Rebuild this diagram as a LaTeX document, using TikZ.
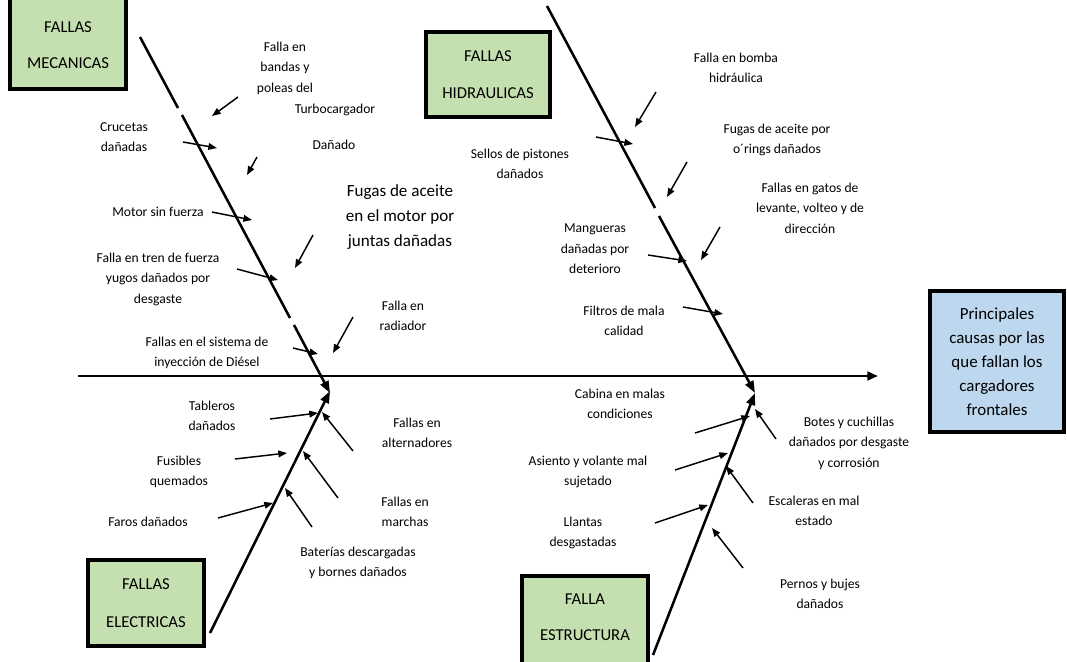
\documentclass[tikz,border=0pt]{standalone}
\usepackage{fontspec}
\setmainfont{Carlito}
\usetikzlibrary{arrows.meta}
\definecolor{catgreen}{RGB}{197,224,176}
\definecolor{effblue}{RGB}{189,215,238}
\begin{document}
\begin{tikzpicture}[x=0.75pt,y=-0.75pt,
  spine/.style={line width=2.2pt,-{Triangle[length=8pt,width=6.5pt]}},
  bone/.style={line width=1.9pt},
  bonetip/.style={bone,-{Triangle[length=9pt,width=6.5pt]}},
  cause/.style={line width=1.1pt,-{Triangle[length=6.5pt,width=5pt]}},
  lbl/.style={align=center,inner sep=0pt,font=\fontsize{10.2}{15.4}\selectfont},
  biglbl/.style={align=center,inner sep=0pt,font=\fontsize{12.8}{18.4}\selectfont},
  catbox/.style={draw,line width=3pt,fill=catgreen,align=center,inner sep=0pt,font=\fontsize{12.5}{28}\selectfont},
  cattext/.style={align=center,inner sep=0pt,font=\fontsize{12.5}{27}\selectfont},
  effbox/.style={draw,line width=3pt,fill=effblue,align=center,inner sep=0pt,font=\fontsize{12.7}{18}\selectfont},
]
\useasboundingbox (0,0) rectangle (1067,661);
\clip (0,0) rectangle (1067,661);

% category boxes
\node[catbox,minimum width=87pt,minimum height=74.25pt] (mechbox) at (68,39.5) {};
\node[cattext] (mech) at (68,45.5) {FALLAS\\MECANICAS};
\node[catbox,minimum width=93pt,minimum height=63.75pt] (hyd) at (488,74.5) {FALLAS\\HIDRAULICAS};
\node[catbox,minimum width=87pt,minimum height=64.5pt] (elec) at (146,603) {FALLAS\\ELECTRICAS};
\node[catbox,minimum width=94.5pt,minimum height=72pt] (strbox) at (585,624) {};
\node[cattext] (str) at (585,617.5) {FALLA\\ESTRUCTURA};
% effect box
\node[effbox,minimum width=100.5pt,minimum height=105.75pt] (eff) at (997,361.5)
  {Principales\\causas por las\\que fallan los\\cargadores\\frontales};

% spine
\coordinate (sp0) at (78,376);
\coordinate (sp1) at (878,376);
\draw[spine] (sp0) -- (sp1);

% bones
\coordinate (mA) at (140,37);
\coordinate (mB) at (178,108);
\coordinate (mC) at (182,115);
\coordinate (mD) at (290,318);
\coordinate (mE) at (294,325);
\coordinate (mF) at (330,393);
\draw[bone] (mA) -- (mB);
\draw[bone] (mC) -- (mD);
\draw[bonetip] (mE) -- (mF);

\coordinate (hA) at (547,6);
\coordinate (hB) at (655,208);
\coordinate (hC) at (659,216);
\coordinate (hD) at (755,393);
\draw[bone] (hA) -- (hB);
\draw[bonetip] (hC) -- (hD);

\coordinate (eA) at (210,633);
\coordinate (eB) at (330,391);
\draw[bonetip] (eA) -- (eB);

\coordinate (sA) at (653,655);
\coordinate (sB) at (755,393);
\draw[bonetip] (sA) -- (sB);

% mechanical causes
\node[lbl] (bandas) at (285,68) {Falla en\\bandas y\\poleas del};
\node[lbl] (turbo) at (335,110) {Turbocargador};
\node[lbl] (danado) at (334,145) {Dañado};
\node[lbl] (cruc) at (124,137) {Crucetas\\dañadas};
\node[lbl] (motor) at (158,212) {Motor sin fuerza};
\node[lbl] (tren) at (158,279) {Falla en tren de fuerza\\yugos dañados por\\desgaste};
\node[lbl] (inyec) at (207,353) {Fallas en el sistema de\\inyección de Diésel};
\node[biglbl] (fugas) at (400,217) {Fugas de aceite\\en el motor por\\juntas dañadas};
\node[lbl] (radia) at (403,316) {Falla en\\radiador};

\coordinate (t1) at (238,97);  \coordinate (h1) at (212,116);
\coordinate (t2) at (183,142); \coordinate (h2) at (217,148);
\coordinate (t3) at (257,157); \coordinate (h3) at (247,175);
\coordinate (t4) at (212,212); \coordinate (h4) at (252,220);
\coordinate (t5) at (313,235); \coordinate (h5) at (295,268);
\coordinate (t6) at (237,269); \coordinate (h6) at (278,280);
\coordinate (t7) at (293,348); \coordinate (h7) at (318,354);
\coordinate (t8) at (353,317); \coordinate (h8) at (333,353);
\foreach \i in {1,...,8} \draw[cause] (t\i) -- (h\i);

% hydraulic causes
\node[lbl] (bomba) at (736,68) {Falla en bomba\\hidráulica};
\node[lbl] (sellos) at (520,164) {Sellos de pistones\\dañados};
\node[lbl] (orings) at (777,140) {Fugas de aceite por\\o´rings dañados};
\node[lbl] (gatos) at (810,208) {Fallas en gatos de\\levante, volteo y de\\dirección};
\node[lbl] (mang) at (595,249) {Mangueras\\dañadas por\\deterioro};
\node[lbl] (filt) at (624,321) {Filtros de mala\\calidad};

\coordinate (ht1) at (656,92);  \coordinate (hh1) at (635,127);
\coordinate (ht2) at (596,137); \coordinate (hh2) at (633,144);
\coordinate (ht3) at (687,162); \coordinate (hh3) at (667,197);
\coordinate (ht4) at (720,227); \coordinate (hh4) at (701,260);
\coordinate (ht5) at (648,255); \coordinate (hh5) at (687,261);
\coordinate (ht6) at (683,307); \coordinate (hh6) at (723,314);
\foreach \i in {1,...,6} \draw[cause] (ht\i) -- (hh\i);

% electrical causes
\node[lbl] (tabl) at (212,416) {Tableros\\dañados};
\node[lbl] (fusi) at (179,472) {Fusibles\\quemados};
\node[lbl] (faros) at (148,522) {Faros dañados};
\node[lbl] (alter) at (417,433) {Fallas en\\alternadores};
\node[lbl] (march) at (405,512) {Fallas en\\marchas};
\node[lbl] (bater) at (358,563) {Baterías descargadas\\y bornes dañados};

\coordinate (et1) at (270,419); \coordinate (eh1) at (318,413);
\coordinate (et2) at (235,459); \coordinate (eh2) at (287,453);
\coordinate (et3) at (218,518); \coordinate (eh3) at (273,503);
\coordinate (et4) at (353,451); \coordinate (eh4) at (322,412);
\coordinate (et5) at (338,498); \coordinate (eh5) at (303,451);
\coordinate (et6) at (312,527); \coordinate (eh6) at (285,488);
\foreach \i in {1,...,6} \draw[cause] (et\i) -- (eh\i);

% structural causes
\node[lbl] (cabina) at (620,404) {Cabina en malas\\condiciones};
\node[lbl] (asiento) at (588,472) {Asiento y volante mal\\sujetado};
\node[lbl] (llantas) at (583,533) {Llantas\\desgastadas};
\node[lbl] (botes) at (849,443) {Botes y cuchillas\\dañados por desgaste\\y corrosión};
\node[lbl] (escal) at (814,511) {Escaleras en mal\\estado};
\node[lbl] (pernos) at (820,594) {Pernos y bujes\\dañados};

\coordinate (st1) at (695,433); \coordinate (sh1) at (750,416);
\coordinate (st2) at (675,470); \coordinate (sh2) at (728,453);
\coordinate (st3) at (655,523); \coordinate (sh3) at (708,505);
\coordinate (st4) at (776,439); \coordinate (sh4) at (755,409);
\coordinate (st5) at (753,503); \coordinate (sh5) at (726,466);
\coordinate (st6) at (743,568); \coordinate (sh6) at (712,528);
\foreach \i in {1,...,6} \draw[cause] (st\i) -- (sh\i);
\end{tikzpicture}
\end{document}
